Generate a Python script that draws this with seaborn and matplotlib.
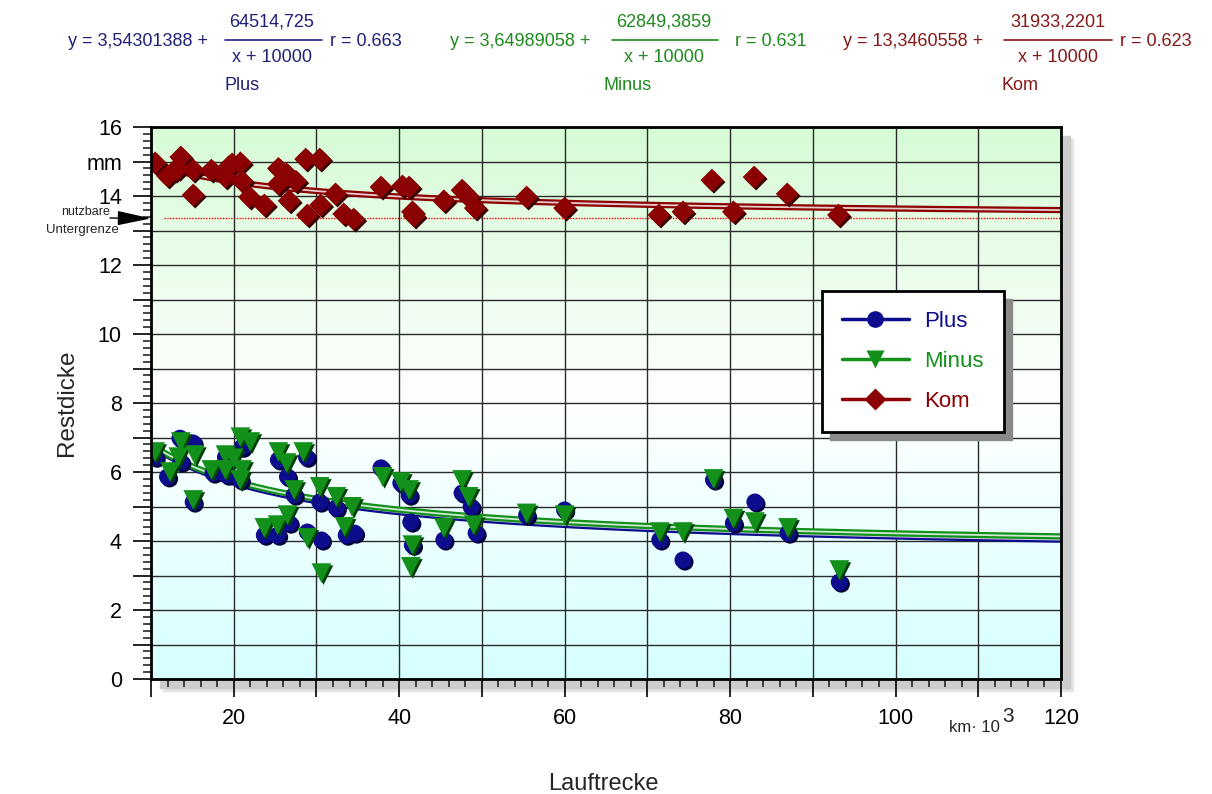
import numpy as np
import pandas as pd
import matplotlib
matplotlib.use("Agg")
import matplotlib.pyplot as plt
import matplotlib.transforms as mtransforms
from matplotlib.colors import LinearSegmentedColormap
from matplotlib.lines import Line2D
from matplotlib.patches import Rectangle
from matplotlib.ticker import MultipleLocator, FuncFormatter
import seaborn as sns

# measured points (km * 10^3, mm)
plus_x = [10.5, 12.0, 13.5, 15.1, 13.6, 15.1, 17.5, 19.2, 19.0, 21.0, 20.8, 26.5,
          25.4, 28.8, 27.3, 30.4, 23.7, 25.3, 26.7, 28.9, 32.4, 30.6, 33.6, 34.6,
          37.8, 40.2, 41.2, 41.4, 41.6, 45.4, 47.6, 48.7, 49.3, 55.4, 60.0, 71.5,
          74.3, 78.0, 80.4, 83.0, 87.0, 93.2]
plus_y = [6.43, 5.86, 6.98, 6.84, 6.29, 5.13, 5.97, 5.91, 6.43, 6.72, 5.77, 5.86,
          6.35, 6.43, 5.33, 5.13, 4.17, 4.17, 4.52, 4.26, 4.96, 4.03, 4.17, 4.23,
          6.12, 5.68, 5.33, 4.55, 3.88, 4.03, 5.39, 4.99, 4.23, 4.75, 4.90, 4.03,
          3.45, 5.77, 4.52, 5.13, 4.23, 2.81]

minus_x = [10.5, 12.3, 13.6, 13.3, 15.3, 15.1, 17.3, 19.0, 19.0, 20.0, 20.8, 22.0,
           21.0, 20.8, 25.4, 26.4, 28.4, 27.3, 23.7, 25.3, 26.5, 28.9, 30.6, 30.4,
           32.4, 34.3, 33.4, 38.0, 40.2, 41.2, 41.6, 41.4, 45.4, 47.6, 48.4, 49.0,
           55.4, 60.0, 71.5, 74.3, 78.0, 80.4, 83.0, 87.0, 93.2]
minus_y = [6.58, 6.00, 6.87, 6.43, 6.49, 5.19, 6.06, 6.06, 6.49, 6.40, 7.01, 6.87,
           6.06, 5.77, 6.58, 6.26, 6.58, 5.48, 4.38, 4.46, 4.75, 4.09, 3.07, 5.57,
           5.28, 4.99, 4.41, 5.86, 5.71, 5.48, 3.88, 3.25, 4.38, 5.77, 5.28, 4.46,
           4.80, 4.75, 4.26, 4.26, 5.80, 4.65, 4.55, 4.38, 3.16]

kom_x = [10.5, 12.0, 12.9, 13.3, 13.6, 15.1, 15.1, 17.3, 19.0, 19.4, 19.8, 20.8,
         21.0, 21.9, 23.7, 25.4, 25.4, 26.4, 26.7, 27.5, 28.7, 28.9, 30.4, 30.5,
         32.3, 33.3, 34.5, 37.8, 40.4, 41.2, 41.6, 41.8, 45.4, 47.6, 48.4, 49.2,
         55.4, 60.0, 71.4, 74.3, 77.8, 80.4, 82.9, 86.9, 93.1]
kom_y = [14.96, 14.58, 14.75, 14.80, 15.13, 14.75, 14.03, 14.75, 14.55, 14.85, 14.93, 14.96,
         14.43, 13.97, 13.74, 14.80, 14.35, 14.64, 13.86, 14.43, 15.07, 13.45, 15.07, 13.74,
         14.06, 13.48, 13.33, 14.26, 14.29, 14.26, 13.54, 13.42, 13.86, 14.17, 13.97, 13.65,
         13.97, 13.65, 13.45, 13.54, 14.46, 13.54, 14.55, 14.06, 13.45]

# fit y = a + b / (x + c), x in km
series_names = ["Plus", "Minus", "Kom"]
fit_a = [3.54301388, 3.64989058, 13.3460558]
fit_b = [64514.725, 62849.3859, 31933.2201]
fit_c = [10000, 10000, 10000]
fit_r = ["0.663", "0.631", "0.623"]
a_labels = ["3,54301388", "3,64989058", "13,3460558"]
b_labels = ["64514,725", "62849,3859", "31933,2201"]

limit_y = 13.35

colors = ["#0c0c8c", "#12901a", "#8b0000"]
shadow_colors = ["#00003a", "#004008", "#3a0000"]
text_colors = ["#20207a", "#1e8a1e", "#851818"]
markers = ["o", "v", "D"]
sizes = [150, 200, 135]

W, H = 1212, 794


def fx(px):
    return px / W


def fy(py):
    return 1 - py / H


sns.set_style("white")
plt.rcParams["font.family"] = ["Liberation Sans", "DejaVu Sans"]

fig = plt.figure(figsize=(12.12, 7.94), dpi=100)
ax = fig.add_axes([fx(151), fy(679), fx(1061) - fx(151), fy(127) - fy(679)])

# background gradient
cmap = LinearSegmentedColormap.from_list("bg", [(0, "#d6ffff"), (0.5, "#ffffff"), (1, "#d6fbd6")])
grad = np.linspace(0, 1, 256).reshape(-1, 1)
ax.imshow(grad, extent=[10, 120, 0, 16], origin="lower", aspect="auto", cmap=cmap, zorder=0)

# axes shadow
for off, col in [(12, "#e4e4e4"), (9, "#cdcdcd")]:
    fig.patches.append(Rectangle((fx(151 + off), fy(679 + off)), fx(1061) - fx(151), fy(127) - fy(679),
                                 transform=fig.transFigure, color=col, zorder=-2))

xs = np.linspace(10, 120, 300)
data = [(plus_x, plus_y), (minus_x, minus_y), (kom_x, kom_y)]

ax.hlines(limit_y, 11.6, 120, colors="red", lw=1, linestyles=(0, (1, 1)), zorder=2)

for i, name in enumerate(series_names):
    fit = fit_a[i] + fit_b[i] / (xs * 1000 + fit_c[i])
    sns.lineplot(x=xs, y=fit, ax=ax, color=colors[i], lw=4.5, zorder=3)
    sns.lineplot(x=xs, y=fit, ax=ax, color="white", lw=1.3, alpha=0.8, zorder=3)

shadow_tr = mtransforms.offset_copy(ax.transData, fig=fig, x=1.5, y=-1.5, units="points")
for i, name in enumerate(series_names):
    df = pd.DataFrame({"x": data[i][0], "y": data[i][1]})
    sns.scatterplot(data=df, x="x", y="y", ax=ax, marker=markers[i], s=sizes[i],
                    color=shadow_colors[i], edgecolor="none", zorder=4 + i, transform=shadow_tr)
    sns.scatterplot(data=df, x="x", y="y", ax=ax, marker=markers[i], s=sizes[i],
                    color=colors[i], edgecolor="none", zorder=4 + i)

ax.set_xlim(10, 120)
ax.set_ylim(0, 16)

# grid and ticks
ax.xaxis.set_major_locator(MultipleLocator(10))
ax.xaxis.set_minor_locator(MultipleLocator(2))
ax.yaxis.set_major_locator(MultipleLocator(1))
ax.yaxis.set_minor_locator(MultipleLocator(0.2))
ax.xaxis.set_major_formatter(FuncFormatter(lambda v, p: f"{v:.0f}" if round(v) % 20 == 0 and v > 10 else ""))


def yfmt(v, p):
    v = int(round(v))
    if v == 15:
        return "mm"
    return f"{v}" if v % 2 == 0 else ""


ax.yaxis.set_major_formatter(FuncFormatter(yfmt))
ax.grid(True, which="major", color="#2a2a2a", lw=1, zorder=1)
ax.set_axisbelow(False)
for gl in ax.get_xgridlines() + ax.get_ygridlines():
    gl.set_zorder(1)
ax.tick_params(axis="both", which="major", direction="out", length=13, width=1.2, labelsize=15.5,
               colors="black", bottom=True, left=True, pad=8)
ax.tick_params(axis="both", which="minor", direction="out", length=6, width=1.2, bottom=True, left=True)
for sp in ax.spines.values():
    sp.set_linewidth(2)
    sp.set_color("black")
    sp.set_zorder(10)

ax.set_xlabel("")
ax.set_ylabel("Restdicke", fontsize=17.5, labelpad=6)
fig.text(fx(603), fy(784), "Lauftrecke", ha="center", va="center", fontsize=17)
fig.text(fx(949), fy(727), "km· 10", ha="left", va="center", fontsize=12)
fig.text(fx(1002), fy(716), "3", ha="left", va="center", fontsize=15)

# limit annotation
fig.text(fx(110), fy(212), "nutzbare", ha="right", va="center", fontsize=9)
fig.text(fx(119), fy(230), "Untergrenze", ha="right", va="center", fontsize=9.5)
ax.annotate("", xy=(10, limit_y), xycoords="data", xytext=(fx(110), fy(218)), textcoords="figure fraction",
            arrowprops=dict(arrowstyle="-|>,head_length=2.1,head_width=0.45", color="black", lw=1,
                            shrinkA=0, shrinkB=0), annotation_clip=False)

# equations
eq_pos = [(68, 272, 225, 322, 330, 242), (450, 664, 612, 718, 735, 628), (843, 1058, 1004, 1112, 1120, 1020)]
for i, (x0, xc, l0, l1, xr, xn) in enumerate(eq_pos):
    c = text_colors[i]
    fig.text(fx(x0), fy(41), f"y = {a_labels[i]} +", color=c, fontsize=13, ha="left", va="center")
    fig.text(fx(xc), fy(22), b_labels[i], color=c, fontsize=13, ha="center", va="center")
    fig.text(fx(xc), fy(57), "x + 10000", color=c, fontsize=13, ha="center", va="center")
    fig.add_artist(Line2D([fx(l0), fx(l1)], [fy(40), fy(40)], color=c, lw=1.2, transform=fig.transFigure))
    fig.text(fx(xr), fy(41), f"r = {fit_r[i]}", color=c, fontsize=13, ha="left", va="center")
    fig.text(fx(xn), fy(86), series_names[i], color=c, fontsize=13, ha="center", va="center")

# legend
handles = [Line2D([], [], color=colors[i], lw=2.5, marker=markers[i],
                  markersize=[12, 13, 11][i], markeredgecolor="none") for i in range(3)]
leg = ax.legend(handles, series_names, loc="upper left", bbox_to_anchor=(fx(822), fy(291)),
                bbox_transform=fig.transFigure, borderaxespad=0, fontsize=16, labelcolor=colors,
                frameon=True, fancybox=False, edgecolor="black", framealpha=1, borderpad=0.9,
                labelspacing=0.85, handlelength=3.0, handletextpad=0.7)
leg.get_frame().set_linewidth(2)
fig.canvas.draw()
bb = leg.get_window_extent()
fig.patches.append(Rectangle(((bb.x0 + 8) / W, (bb.y0 - 8) / H), bb.width / W, bb.height / H,
                             transform=fig.transFigure, color="#8a8a8a", zorder=19))
leg.remove()
fig.add_artist(leg)
leg.set_zorder(21)

fig.savefig("out.png", dpi=100)
